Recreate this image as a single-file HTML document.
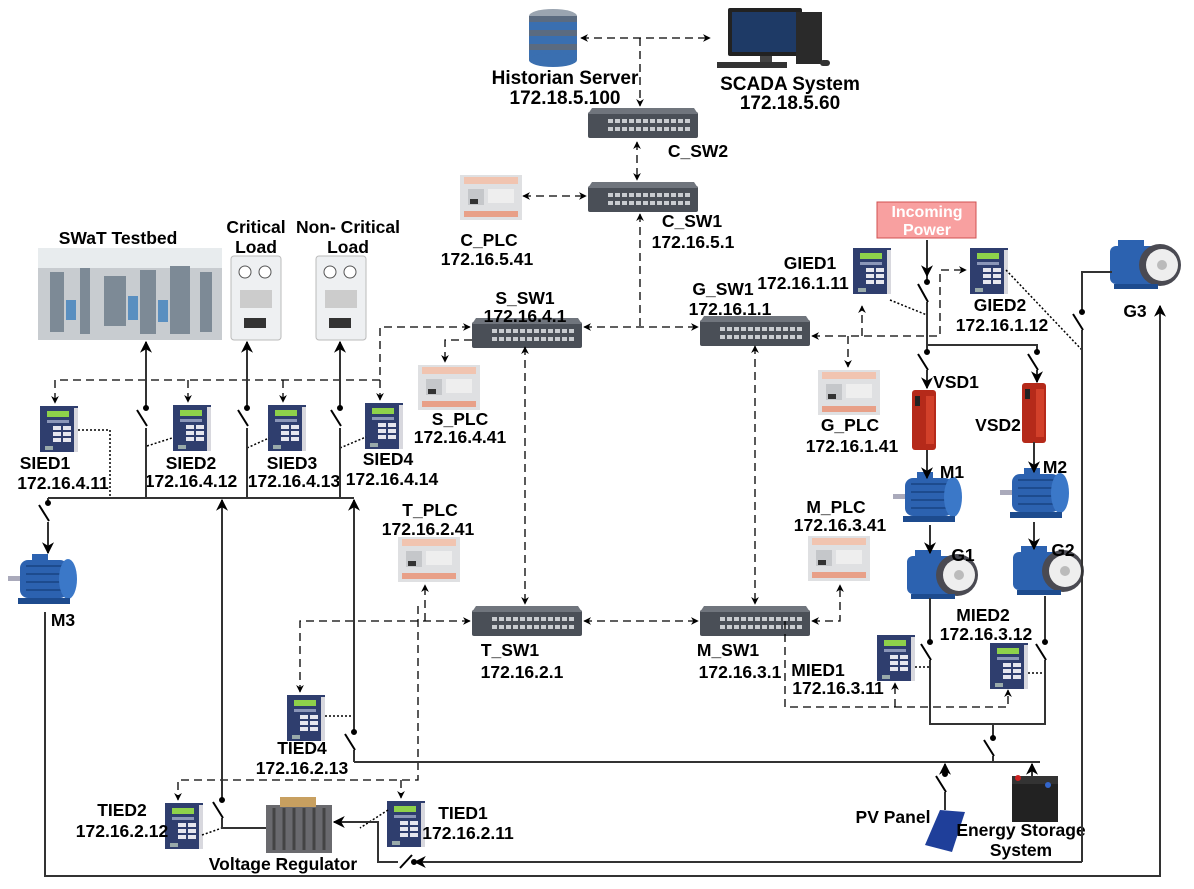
<!DOCTYPE html>
<html><head><meta charset="utf-8"><style>
html,body{margin:0;padding:0;background:#fff;}
svg text{font-family:"Liberation Sans",Arial,sans-serif;font-weight:bold;font-size:17.5px;fill:#000;text-anchor:middle;}
svg text.b{font-size:19px;}
</style></head><body>
<svg width="1194" height="884" viewBox="0 0 1194 884" xmlns="http://www.w3.org/2000/svg">
<defs>
<marker id="a" viewBox="0 0 10 10" refX="9" refY="5" markerWidth="6" markerHeight="6" orient="auto-start-reverse"><path d="M0,0 L10,5 L0,10 L3,5z" fill="#000"/></marker>
<g id="sw">
<rect x="0" y="4" width="110" height="26" rx="2" fill="#4a4f57"/>
<path d="M4,0 L106,0 L110,6 L0,6z" fill="#70757d"/>
<g fill="#c9ccd0">
<rect x="20" y="11" width="5" height="4"/><rect x="27" y="11" width="5" height="4"/><rect x="34" y="11" width="5" height="4"/><rect x="41" y="11" width="5" height="4"/><rect x="48" y="11" width="5" height="4"/><rect x="55" y="11" width="5" height="4"/><rect x="62" y="11" width="5" height="4"/><rect x="69" y="11" width="5" height="4"/><rect x="76" y="11" width="5" height="4"/><rect x="83" y="11" width="5" height="4"/><rect x="90" y="11" width="5" height="4"/><rect x="97" y="11" width="5" height="4"/>
<rect x="20" y="19" width="5" height="4"/><rect x="27" y="19" width="5" height="4"/><rect x="34" y="19" width="5" height="4"/><rect x="41" y="19" width="5" height="4"/><rect x="48" y="19" width="5" height="4"/><rect x="55" y="19" width="5" height="4"/><rect x="62" y="19" width="5" height="4"/><rect x="69" y="19" width="5" height="4"/><rect x="76" y="19" width="5" height="4"/><rect x="83" y="19" width="5" height="4"/><rect x="90" y="19" width="5" height="4"/><rect x="97" y="19" width="5" height="4"/>
</g></g>
<g id="plc">
<rect x="0" y="0" width="62" height="45" fill="#dfe0e2"/>
<rect x="4" y="2" width="54" height="7" fill="#f1c4b0"/>
<rect x="4" y="36" width="54" height="6" fill="#e8a088"/>
<rect x="8" y="14" width="16" height="16" fill="#c5c7ca"/>
<rect x="28" y="14" width="26" height="14" fill="#eeeeee"/>
<rect x="10" y="24" width="8" height="5" fill="#333"/>
</g>
<g id="ied">
<rect x="0" y="0" width="38" height="46" fill="#2f3e6e"/>
<rect x="34" y="2" width="4" height="44" fill="#d8d8de"/>
<rect x="7" y="5" width="22" height="6" fill="#8ed14a"/>
<rect x="7" y="14" width="22" height="3" fill="#8b96b8"/>
<g fill="#e6e6ee"><rect x="13" y="20" width="8" height="4"/><rect x="23" y="20" width="8" height="4"/><rect x="13" y="26" width="8" height="4"/><rect x="23" y="26" width="8" height="4"/><rect x="13" y="32" width="8" height="4"/><rect x="23" y="32" width="8" height="4"/></g>
<rect x="5" y="40" width="8" height="4" fill="#9aa"/>
</g>
<g id="mot">
<rect x="12" y="8" width="48" height="38" rx="8" fill="#2c62b0"/>
<g stroke="#1d4b8e" stroke-width="2"><line x1="18" y1="14" x2="54" y2="14"/><line x1="18" y1="22" x2="54" y2="22"/><line x1="18" y1="30" x2="54" y2="30"/><line x1="18" y1="38" x2="54" y2="38"/></g>
<ellipse cx="60" cy="27" rx="9" ry="20" fill="#3b78c8"/>
<rect x="24" y="2" width="16" height="8" fill="#2c62b0"/>
<rect x="0" y="24" width="12" height="5" fill="#aab"/>
<rect x="10" y="46" width="52" height="6" fill="#1d4b8e"/>
</g>
<g id="gen">
<rect x="0" y="6" width="48" height="38" rx="6" fill="#2c62b0"/>
<rect x="8" y="0" width="26" height="10" fill="#2c62b0"/>
<circle cx="50" cy="25" r="21" fill="#4a4a52"/>
<circle cx="52" cy="25" r="16" fill="#eeeeee"/>
<circle cx="52" cy="25" r="5" fill="#bbb"/>
<rect x="4" y="44" width="44" height="5" fill="#1d4b8e"/>
</g>
<g id="vsd">
<rect x="0" y="0" width="24" height="60" rx="3" fill="#b52a1a"/>
<rect x="3" y="6" width="5" height="10" fill="#222"/>
<rect x="14" y="6" width="8" height="48" fill="#d2402a"/>
</g>
</defs>

<g>
<ellipse cx="553" cy="16" rx="24" ry="7" fill="#9aa4b0"/>
<rect x="529" y="16" width="48" height="44" fill="#5b6b80"/>
<rect x="529" y="22" width="48" height="8" fill="#3a6fb0"/><rect x="529" y="36" width="48" height="8" fill="#3a6fb0"/><rect x="529" y="50" width="48" height="8" fill="#3a6fb0"/>
<ellipse cx="553" cy="60" rx="24" ry="7" fill="#3a6fb0"/>
</g>
<g>
<rect x="728" y="8" width="74" height="48" rx="2" fill="#222"/>
<rect x="732" y="12" width="66" height="40" fill="#1e3a66"/>
<rect x="760" y="56" width="12" height="6" fill="#444"/>
<rect x="717" y="62" width="70" height="6" fill="#333"/>
<rect x="796" y="12" width="26" height="52" fill="#2a2a2a"/>
<rect x="820" y="60" width="10" height="6" rx="3" fill="#333"/>
</g>
<text class="b" x="565" y="84">Historian Server</text><text class="b" x="565" y="104">172.18.5.100</text>
<text class="b" x="790" y="90">SCADA System</text><text class="b" x="790" y="109">172.18.5.60</text>

<use href="#sw" x="588" y="108"/><text x="698" y="157">C_SW2</text>
<use href="#sw" x="588" y="182"/><text x="692" y="227">C_SW1</text><text x="693" y="248">172.16.5.1</text>
<use href="#plc" x="460" y="175"/><text x="489" y="246">C_PLC</text><text x="487" y="265">172.16.5.41</text>
<use href="#sw" x="472" y="318"/><text x="525" y="304">S_SW1</text><text x="525" y="322">172.16.4.1</text>
<use href="#sw" x="700" y="316"/><text x="723" y="295">G_SW1</text><text x="730" y="315">172.16.1.1</text>
<use href="#plc" x="418" y="365"/><text x="460" y="425">S_PLC</text><text x="460" y="443">172.16.4.41</text>
<use href="#plc" x="818" y="370"/><text x="850" y="431">G_PLC</text><text x="852" y="452">172.16.1.41</text>
<use href="#plc" x="398" y="537"/><text x="430" y="516">T_PLC</text><text x="428" y="535">172.16.2.41</text>
<use href="#plc" x="808" y="536"/><text x="836" y="513">M_PLC</text><text x="840" y="531">172.16.3.41</text>
<use href="#sw" x="472" y="606"/><text x="510" y="656">T_SW1</text><text x="522" y="678">172.16.2.1</text>
<use href="#sw" x="700" y="606"/><text x="728" y="656">M_SW1</text><text x="740" y="678">172.16.3.1</text>

<rect x="38" y="248" width="184" height="92" fill="#c8ccd0"/>
<rect x="38" y="248" width="184" height="20" fill="#e8ecee"/>
<g fill="#7d8a96"><rect x="50" y="272" width="14" height="60"/><rect x="80" y="268" width="10" height="66"/><rect x="104" y="276" width="22" height="50"/><rect x="140" y="270" width="16" height="64"/><rect x="170" y="266" width="20" height="68"/><rect x="200" y="272" width="12" height="60"/></g>
<g fill="#5a8fc0"><rect x="66" y="300" width="10" height="20"/><rect x="128" y="296" width="10" height="24"/><rect x="158" y="300" width="10" height="22"/></g>
<text x="118" y="244">SWaT Testbed</text>
<rect x="231" y="256" width="50" height="84" rx="3" fill="#eef0f2" stroke="#bbb"/>
<circle cx="245" cy="272" r="6" fill="#fff" stroke="#555"/><circle cx="265" cy="272" r="6" fill="#fff" stroke="#555"/>
<rect x="240" y="290" width="32" height="18" fill="#ccc"/><rect x="244" y="318" width="22" height="10" fill="#333"/>
<text x="256" y="233">Critical</text><text x="256" y="253">Load</text>
<rect x="316" y="256" width="50" height="84" rx="3" fill="#eef0f2" stroke="#bbb"/>
<circle cx="330" cy="272" r="6" fill="#fff" stroke="#555"/><circle cx="350" cy="272" r="6" fill="#fff" stroke="#555"/>
<rect x="325" y="290" width="32" height="18" fill="#ccc"/><rect x="329" y="318" width="22" height="10" fill="#333"/>
<text x="348" y="233">Non- Critical</text><text x="348" y="253">Load</text>

<use href="#ied" x="40" y="406"/><text x="45" y="469">SIED1</text><text x="63" y="489">172.16.4.11</text>
<use href="#ied" x="173" y="405"/><text x="191" y="469">SIED2</text><text x="191" y="487">172.16.4.12</text>
<use href="#ied" x="268" y="405"/><text x="292" y="469">SIED3</text><text x="294" y="487">172.16.4.13</text>
<use href="#ied" x="365" y="403"/><text x="388" y="465">SIED4</text><text x="392" y="485">172.16.4.14</text>
<use href="#ied" x="853" y="248"/><text x="810" y="269">GIED1</text><text x="803" y="289">172.16.1.11</text>
<use href="#ied" x="970" y="248"/><text x="1000" y="311">GIED2</text><text x="1002" y="331">172.16.1.12</text>
<use href="#ied" x="287" y="695"/><text x="302" y="754">TIED4</text><text x="302" y="774">172.16.2.13</text>
<use href="#ied" x="165" y="803"/><text x="122" y="816">TIED2</text><text x="122" y="837">172.16.2.12</text>
<use href="#ied" x="387" y="801"/><text x="463" y="819">TIED1</text><text x="468" y="839">172.16.2.11</text>
<use href="#ied" x="877" y="635"/><text x="818" y="676">MIED1</text><text x="838" y="694">172.16.3.11</text>
<use href="#ied" x="990" y="643"/><text x="983" y="621">MIED2</text><text x="986" y="640">172.16.3.12</text>

<rect x="877" y="202" width="99" height="36" fill="#f8a0a0" stroke="#d05050"/>
<text x="927" y="217" style="fill:#fff;font-size:16px">Incoming</text>
<text x="927" y="235" style="fill:#fff;font-size:16px">Power</text>

<use href="#vsd" x="912" y="390"/><text x="956" y="388">VSD1</text>
<use href="#vsd" x="1022" y="383"/><text x="998" y="431">VSD2</text>
<use href="#mot" x="893" y="470"/><text x="952" y="478">M1</text>
<use href="#mot" x="1000" y="466"/><text x="1055" y="473">M2</text>
<use href="#gen" x="907" y="550"/><text x="963" y="561">G1</text>
<use href="#gen" x="1013" y="546"/><text x="1063" y="556">G2</text>
<use href="#gen" x="1110" y="240"/><text x="1135" y="317">G3</text>
<use href="#mot" x="8" y="552"/><text x="63" y="626">M3</text>

<rect x="266" y="805" width="66" height="48" fill="#6a6a6e"/>
<g stroke="#444" stroke-width="3"><line x1="274" y1="808" x2="274" y2="850"/><line x1="284" y1="808" x2="284" y2="850"/><line x1="294" y1="808" x2="294" y2="850"/><line x1="304" y1="808" x2="304" y2="850"/><line x1="314" y1="808" x2="314" y2="850"/><line x1="324" y1="808" x2="324" y2="850"/></g>
<rect x="280" y="797" width="36" height="10" fill="#c8a060"/>
<text x="283" y="870">Voltage Regulator</text>
<polygon points="940,810 965,812 952,852 925,845" fill="#1f3f9a"/>
<text x="893" y="823">PV Panel</text>
<rect x="1012" y="782" width="46" height="40" fill="#222"/>
<rect x="1012" y="776" width="46" height="8" fill="#333"/>
<circle cx="1018" cy="778" r="3" fill="#c22"/><circle cx="1048" cy="785" r="3" fill="#36c"/>
<text x="1021" y="836">Energy Storage</text><text x="1021" y="856">System</text>

<g fill="none" stroke="#000" stroke-width="1.3" stroke-dasharray="8,5">
<line x1="581" y1="38" x2="710" y2="38" marker-start="url(#a)" marker-end="url(#a)"/>
<line x1="640" y1="38" x2="640" y2="106" marker-end="url(#a)"/>
<line x1="637" y1="142" x2="637" y2="180" marker-start="url(#a)" marker-end="url(#a)"/>
<line x1="523" y1="196" x2="586" y2="196" marker-start="url(#a)" marker-end="url(#a)"/>
<line x1="640" y1="214" x2="640" y2="327" marker-start="url(#a)"/>
<line x1="584" y1="327" x2="698" y2="327" marker-start="url(#a)" marker-end="url(#a)"/>
<polyline points="470,327 380,327 380,400" marker-start="url(#a)" marker-end="url(#a)"/>
<polyline points="380,380 55,380 55,403" marker-end="url(#a)"/>
<line x1="188" y1="380" x2="188" y2="402" marker-end="url(#a)"/>
<line x1="283" y1="380" x2="283" y2="402" marker-end="url(#a)"/>
<polyline points="472,340 445,340 445,362" marker-end="url(#a)"/>
<line x1="525" y1="347" x2="525" y2="604" marker-start="url(#a)" marker-end="url(#a)"/>
<line x1="755" y1="346" x2="755" y2="604" marker-start="url(#a)" marker-end="url(#a)"/>
<line x1="584" y1="621" x2="698" y2="621" marker-start="url(#a)" marker-end="url(#a)"/>
<polyline points="812,336 940,336 940,270 966,270" marker-start="url(#a)" marker-end="url(#a)"/>
<line x1="862" y1="336" x2="862" y2="306" marker-end="url(#a)"/>
<line x1="848" y1="336" x2="848" y2="367" marker-end="url(#a)"/>
<polyline points="470,621 300,621 300,692" marker-start="url(#a)" marker-end="url(#a)"/>
<line x1="425" y1="621" x2="425" y2="585" marker-end="url(#a)"/>
<polyline points="418,606 418,780 178,780 178,800" marker-end="url(#a)"/>
<line x1="401" y1="780" x2="401" y2="798" marker-end="url(#a)"/>
<polyline points="812,621 840,621 840,585" marker-start="url(#a)" marker-end="url(#a)"/>
<polyline points="785,621 785,707 1008,707 1008,690" marker-end="url(#a)"/>
<line x1="895" y1="707" x2="895" y2="683" marker-end="url(#a)"/>
</g>

<g fill="none" stroke="#000" stroke-width="1.5" stroke-dasharray="2,2">
<polyline points="78,430 110,430 110,498"/>
<line x1="147" y1="446" x2="172" y2="438"/>
<line x1="247" y1="448" x2="269" y2="438"/>
<line x1="340" y1="448" x2="366" y2="437"/>
<line x1="890" y1="300" x2="927" y2="315"/>
<line x1="1006" y1="270" x2="1082" y2="350"/>
<line x1="325" y1="716" x2="354" y2="716"/>
<line x1="202" y1="835" x2="222" y2="828"/>
<line x1="388" y1="810" x2="360" y2="828"/>
<line x1="915" y1="667" x2="930" y2="667"/>
<line x1="1028" y1="673" x2="1045" y2="673"/>
</g>

<g fill="none" stroke="#333" stroke-width="2">
<line x1="48" y1="498" x2="354" y2="498"/>
<line x1="146" y1="498" x2="146" y2="342" marker-end="url(#a)"/>
<line x1="247" y1="498" x2="247" y2="342" marker-end="url(#a)"/>
<line x1="340" y1="498" x2="340" y2="342" marker-end="url(#a)"/>
<line x1="48" y1="498" x2="48" y2="553" marker-end="url(#a)"/>
<line x1="222" y1="826" x2="222" y2="500" marker-end="url(#a)"/>
<polyline points="222,826 222,828 266,828"/>
<line x1="354" y1="762" x2="354" y2="500" marker-end="url(#a)"/>
<line x1="354" y1="762" x2="1040" y2="762"/>
<polyline points="45,612 45,876 1160,876 1160,306" marker-end="url(#a)"/>
<polyline points="1082,862 415,862" marker-end="url(#a)"/>
<polyline points="405,862 378,862 378,822 334,822" marker-end="url(#a)"/>
<polyline points="1082,862 1082,272 1112,272"/>
<line x1="927" y1="240" x2="927" y2="276" marker-end="url(#a)"/>
<line x1="927" y1="276" x2="927" y2="388" marker-end="url(#a)"/>
<polyline points="927,345 1037,345 1037,382" marker-end="url(#a)"/>
<line x1="927" y1="450" x2="927" y2="478" marker-end="url(#a)"/>
<line x1="1034" y1="442" x2="1034" y2="472" marker-end="url(#a)"/>
<line x1="930" y1="525" x2="930" y2="553" marker-end="url(#a)"/>
<line x1="1034" y1="522" x2="1034" y2="549" marker-end="url(#a)"/>
<polyline points="930,598 930,724 1045,724 1045,596"/>
<line x1="993" y1="724" x2="993" y2="762"/>
<line x1="945" y1="810" x2="945" y2="764" marker-end="url(#a)"/>
<line x1="1032" y1="778" x2="1032" y2="764" marker-end="url(#a)"/>
</g>

<g stroke="#fff" stroke-width="5">
<line x1="146" y1="408" x2="146" y2="428"/><line x1="247" y1="408" x2="247" y2="428"/><line x1="340" y1="408" x2="340" y2="428"/>
<line x1="48" y1="503" x2="48" y2="522"/><line x1="222" y1="800" x2="222" y2="818"/><line x1="354" y1="732" x2="354" y2="750"/>
<line x1="927" y1="282" x2="927" y2="302"/><line x1="927" y1="352" x2="927" y2="370"/><line x1="1037" y1="352" x2="1037" y2="370"/>
<line x1="930" y1="642" x2="930" y2="660"/><line x1="1045" y1="642" x2="1045" y2="660"/><line x1="993" y1="738" x2="993" y2="756"/>
<line x1="945" y1="774" x2="945" y2="792"/><line x1="1082" y1="312" x2="1082" y2="330"/>
<line x1="398" y1="862" x2="414" y2="862"/>
</g>
<g stroke="#000" stroke-width="2" fill="#000">
<line x1="137" y1="410" x2="147" y2="426"/><circle cx="146" cy="408" r="2"/>
<line x1="238" y1="410" x2="248" y2="426"/><circle cx="247" cy="408" r="2"/>
<line x1="331" y1="410" x2="341" y2="426"/><circle cx="340" cy="408" r="2"/>
<line x1="39" y1="505" x2="49" y2="521"/><circle cx="48" cy="503" r="2"/>
<line x1="213" y1="802" x2="223" y2="818"/><circle cx="222" cy="800" r="2"/>
<line x1="345" y1="734" x2="355" y2="750"/><circle cx="354" cy="732" r="2"/>
<line x1="918" y1="284" x2="928" y2="302"/><circle cx="927" cy="282" r="2"/>
<line x1="918" y1="354" x2="928" y2="370"/><circle cx="927" cy="352" r="2"/>
<line x1="1028" y1="354" x2="1038" y2="370"/><circle cx="1037" cy="352" r="2"/>
<line x1="921" y1="644" x2="931" y2="660"/><circle cx="930" cy="642" r="2"/>
<line x1="1036" y1="644" x2="1046" y2="660"/><circle cx="1045" cy="642" r="2"/>
<line x1="984" y1="740" x2="994" y2="756"/><circle cx="993" cy="738" r="2"/>
<line x1="936" y1="776" x2="946" y2="792"/><circle cx="945" cy="774" r="2"/>
<line x1="1073" y1="314" x2="1083" y2="330"/><circle cx="1082" cy="312" r="2"/>
<line x1="400" y1="868" x2="412" y2="855"/><circle cx="414" cy="862" r="2"/>
</g>
</svg>
</body></html>
